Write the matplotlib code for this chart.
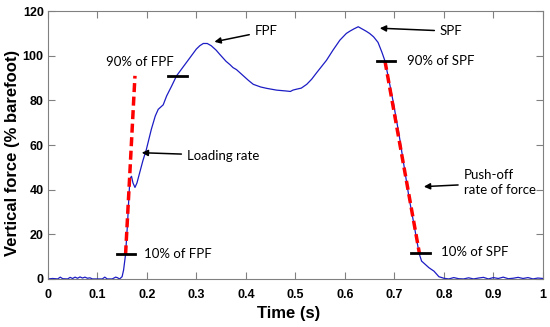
import matplotlib
matplotlib.use("Agg")
import matplotlib.pyplot as plt

# force curve (time in s, force in % barefoot)
time = [0.0, 0.01, 0.02, 0.025, 0.03, 0.04, 0.045, 0.05, 0.055, 0.06, 0.065, 0.07, 0.075,
        0.08, 0.085, 0.09, 0.1, 0.11, 0.115, 0.12, 0.13, 0.137, 0.14, 0.145, 0.15,
        0.153, 0.157, 0.161, 0.164, 0.166, 0.169, 0.172, 0.176, 0.18, 0.186, 0.192,
        0.199, 0.209, 0.217, 0.223, 0.233, 0.24, 0.25, 0.26, 0.27, 0.28, 0.29, 0.3,
        0.307, 0.314, 0.322, 0.33, 0.34, 0.347, 0.36, 0.368, 0.374, 0.381, 0.39,
        0.395, 0.405, 0.415, 0.43, 0.442, 0.452, 0.462, 0.472, 0.482, 0.49, 0.495,
        0.502, 0.512, 0.523, 0.533, 0.543, 0.553, 0.563, 0.576, 0.59, 0.603, 0.61,
        0.618, 0.627, 0.635, 0.643, 0.65, 0.658, 0.667, 0.675, 0.681, 0.69, 0.698,
        0.71, 0.72, 0.73, 0.74, 0.75, 0.755, 0.76, 0.77, 0.78, 0.79, 0.8, 0.81,
        0.82, 0.83, 0.84, 0.85, 0.86, 0.87, 0.88, 0.89, 0.9, 0.91, 0.92, 0.93,
        0.94, 0.95, 0.96, 0.97, 0.98, 0.99, 1.0]
force = [0.0, 0.2, 0.0, 0.8, 0.1, 0.0, 0.7, 0.2, 0.8, 0.3, 0.9, 0.4, 0.8,
         0.3, 0.5, 0.0, 0.0, 0.0, 0.8, 0.0, 0.0, 0.8, 0.6, 0.0, 1.0,
         4.0, 11.0, 25.0, 38.0, 45.0, 46.0, 43.0, 41.0, 43.0, 48.0, 53.0,
         58.0, 67.0, 73.0, 76.0, 78.0, 82.0, 86.4, 91.0, 94.0, 97.0, 100.0, 103.0,
         104.5, 105.5, 105.5, 104.5, 102.5, 100.7, 97.5, 96.0, 94.7, 93.8, 92.0,
         91.0, 89.0, 87.2, 86.0, 85.4, 85.0, 84.6, 84.4, 84.2, 84.0, 84.6,
         85.0, 85.5, 87.2, 89.5, 92.4, 95.2, 98.0, 102.5, 107.0, 110.0, 111.0,
         112.0, 113.0, 112.0, 111.0, 110.0, 108.5, 106.0, 101.5, 97.7, 88.0, 79.0,
         64.0, 50.0, 36.0, 24.0, 11.5, 8.0, 7.0, 5.0, 3.5, 1.0, 0.3, 0.0,
         0.6, 0.1, 0.0, 0.5, 0.0, 0.4, 0.7, 0.0, 0.6, 0.2, 0.8, 0.1,
         0.3, 0.7, 0.2, 0.6, 0.0, 0.4, 0.2]

# fitted rate lines (red dashed)
load_t = [0.157, 0.176]
load_f = [11.0, 91.0]
push_t = [0.681, 0.751]
push_f = [97.7, 11.0]

# short horizontal markers: (t_start, t_end, level)
markers = [(0.139, 0.176, 11.2), (0.242, 0.281, 91.0),
           (0.664, 0.701, 97.7), (0.733, 0.772, 11.5)]

xticks = [0, 0.1, 0.2, 0.3, 0.4, 0.5, 0.6, 0.7, 0.8, 0.9, 1]
xticklabels = ['0', '0.1', '0.2', '0.3', '0.4', '0.5', '0.6', '0.7', '0.8', '0.9', '1']
yticks = [0, 20, 40, 60, 80, 100, 120]

fig = plt.figure(figsize=(5.5, 3.27), dpi=100)
ax = fig.add_axes([0.087, 0.147, 0.9, 0.819])

ax.plot(time, force, color='#1c1cc4', lw=0.9, zorder=2)
ax.plot(load_t, load_f, color='red', lw=2.5, dashes=(2.6, 1.3), zorder=3)
ax.plot(push_t, push_f, color='red', lw=2.5, dashes=(2.6, 1.3), zorder=3)
for t0, t1, lvl in markers:
    ax.plot([t0, t1], [lvl, lvl], color='black', lw=2, zorder=4)

ax.set_xlim(0, 1)
ax.set_ylim(0, 120)
ax.set_xticks(xticks)
ax.set_xticklabels(xticklabels)
ax.set_yticks(yticks)
ax.tick_params(direction='in', top=True, right=True, length=5, color='#808080',
               labelsize=9)
ax.tick_params(axis='x', pad=7)
ax.tick_params(axis='y', pad=3)
for lab in ax.get_xticklabels() + ax.get_yticklabels():
    lab.set_fontfamily('Liberation Sans')
    lab.set_fontweight('bold')
for sp in ax.spines.values():
    sp.set_color('#808080')

ax.set_xlabel('Time (s)', fontsize=12, fontweight='bold', family='Liberation Sans')
ax.set_ylabel('Vertical force (% barefoot)', fontsize=12, fontweight='bold',
              family='Liberation Sans')
ax.xaxis.set_label_coords(0.487, -0.10)
ax.yaxis.set_label_coords(-0.057, 0.47)

# annotations
tf = dict(fontsize=9.5, family='Lato', va='center', ha='left')
ap = dict(arrowstyle='-|>', color='black', lw=1.1, mutation_scale=9)
ax.annotate('FPF', xy=(0.331, 106), xytext=(0.418, 111), arrowprops=ap, **tf)
ax.annotate('SPF', xy=(0.665, 112.4), xytext=(0.792, 111), arrowprops=ap, **tf)
ax.annotate('Loading rate', xy=(0.184, 56.6), xytext=(0.281, 55.3), arrowprops=ap, **tf)
ax.annotate('Push-off\nrate of force', xy=(0.754, 41.3), xytext=(0.840, 43),
            arrowprops=ap, linespacing=1.3, **tf)
ax.text(0.117, 97, '90% of FPF', **tf)
ax.text(0.194, 11.2, '10% of FPF', **tf)
ax.text(0.725, 97.5, '90% of SPF', **tf)
ax.text(0.794, 12, '10% of SPF', **tf)

fig.savefig('out.png', dpi=100)
